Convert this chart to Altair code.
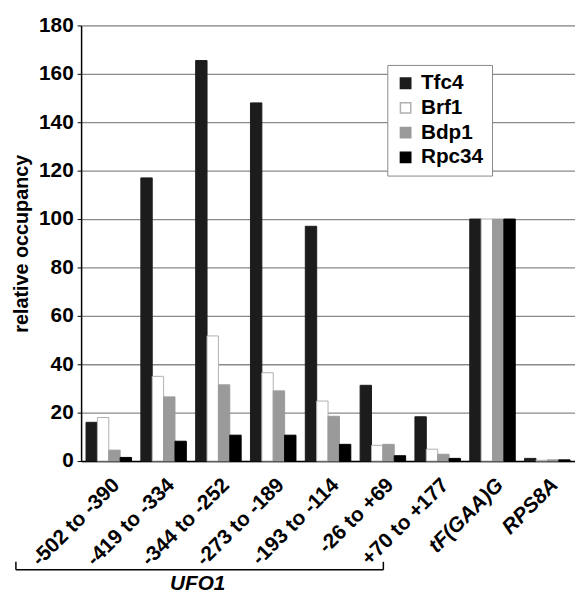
import altair as alt
import pandas as pd

categories = ["-502 to -390", "-419 to -334", "-344 to -252", "-273 to -189",
              "-193 to -114", "-26 to +69", "+70 to +177", "tF(GAA)G", "RPS8A"]
factors = ["Tfc4", "Brf1", "Bdp1", "Rpc34"]
tfc4 = [16, 117, 165.5, 148, 97, 31.3, 18.3, 100, 1.1]
brf1 = [18, 35, 51.7, 36.5, 24.8, 6.5, 4.9, 100, 0.3]
bdp1 = [4.5, 26.5, 31.5, 29, 18.5, 6.9, 2.8, 100, 0.5]
rpc34 = [1.5, 8.2, 10.7, 10.7, 6.9, 2.2, 1.1, 100, 0.5]
fill_colors = ["#1c1c1c", "#ffffff", "#9a9a9a", "#000000"]
stroke_colors = ["#1c1c1c", "#b0b0b0", "#9a9a9a", "#000000"]
y_ticks = [0, 20, 40, 60, 80, 100, 120, 140, 160, 180]

rows = []
for name, vals in zip(factors, [tfc4, brf1, bdp1, rpc34]):
    for c, v in zip(categories, vals):
        rows.append({"site": c, "factor": name, "occupancy": v})
df = pd.DataFrame(rows)

FONT = "Liberation Sans"

legend_kw = dict(title=None, orient="none", legendX=310, legendY=40,
                 fillColor="white", strokeColor="#888888", padding=8,
                 symbolType="square", symbolSize=110, labelFontSize=21,
                 labelFont=FONT, labelFontWeight="bold", labelColor="black",
                 rowPadding=3, labelOffset=5)

bars = alt.Chart(df).mark_bar(strokeWidth=1).encode(
    x=alt.X("site:N", sort=categories,
            scale=alt.Scale(paddingInner=0.17, paddingOuter=0.09),
            axis=alt.Axis(title=None, labelAngle=-45, labelFontSize=21,
                          labelFontWeight="bold", labelColor="black",
                          labelFont=FONT, ticks=False, labelPadding=13,
                          domainColor="black", domainWidth=1.5,
                          labelFontStyle=alt.condition(
                              "datum.value == 'tF(GAA)G' || datum.value == 'RPS8A'",
                              alt.value("italic"), alt.value("normal")))),
    xOffset=alt.XOffset("factor:N", sort=factors),
    y=alt.Y("occupancy:Q",
            scale=alt.Scale(domain=[0, 180], nice=False),
            axis=alt.Axis(title="relative occupancy", values=y_ticks,
                          titleFontSize=20, titleFontWeight="bold",
                          titleFont=FONT, titleColor="black", titlePadding=7,
                          labelFontSize=21, labelFontWeight="bold",
                          labelFont=FONT, labelColor="black",
                          tickSize=4, tickColor="black", labelPadding=4,
                          domainColor="black", domainWidth=1.5,
                          grid=True, gridColor="#8a8a8a", gridWidth=1.3)),
    fill=alt.Fill("factor:N",
                  scale=alt.Scale(domain=factors, range=fill_colors),
                  legend=alt.Legend(**legend_kw)),
    stroke=alt.Stroke("factor:N",
                      scale=alt.Scale(domain=factors, range=stroke_colors),
                      legend=alt.Legend(**legend_kw)),
)

one = pd.DataFrame({"k": [0]})
hline = alt.Chart(one).mark_rule(color="black", strokeWidth=1.5).encode(
    x=alt.value(-66), x2=alt.value(306), y=alt.value(551))
ltick = alt.Chart(one).mark_rule(color="black", strokeWidth=1.5).encode(
    x=alt.value(-66), y=alt.value(543), y2=alt.value(551))
rtick = alt.Chart(one).mark_rule(color="black", strokeWidth=1.5).encode(
    x=alt.value(306), y=alt.value(543), y2=alt.value(551))
ufo = alt.Chart(one).mark_text(text="UFO1", font=FONT, fontSize=21,
                               fontWeight="bold", fontStyle="italic",
                               color="black", baseline="alphabetic").encode(
    x=alt.value(118), y=alt.value(572))

chart = alt.layer(bars, hline, ltick, rtick, ufo).properties(
    width=500, height=441,
    autosize=alt.AutoSizeParams(type="none"),
    padding={"left": 74, "top": 14, "right": 0, "bottom": 136},
).configure_view(stroke=None).configure(background="white")

chart.save("out.html", embed_options={"renderer": "svg", "actions": False})
